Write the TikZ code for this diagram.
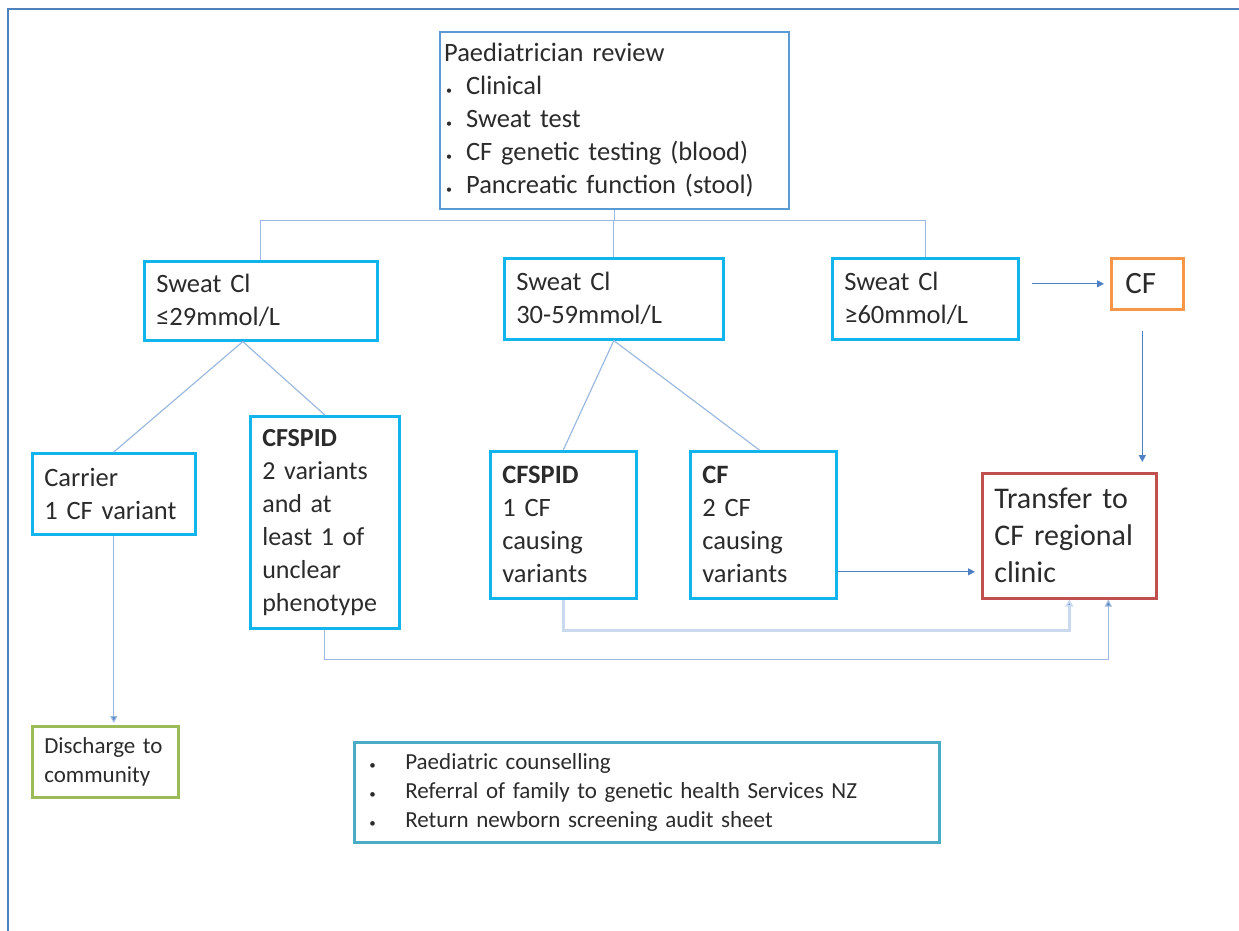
\documentclass[tikz,border=0pt]{standalone}
\usepackage{fontspec}
\setmainfont{Carlito}
\usetikzlibrary{arrows.meta}

\definecolor{framecol}{HTML}{4F81BD}
\definecolor{reviewcol}{HTML}{5B9BD5}
\definecolor{tiercol}{HTML}{12B4EE}
\definecolor{cfcol}{HTML}{F79646}
\definecolor{transcol}{HTML}{C0504D}
\definecolor{homecol}{HTML}{9BBB59}
\definecolor{advicecol}{HTML}{4BACC6}
\definecolor{linkcol}{HTML}{9DB9DF}
\definecolor{palecol}{HTML}{C9D9EE}
\definecolor{arrowcol}{HTML}{4F7FC4}
\definecolor{inkcol}{HTML}{2B2B2B}

\newcommand{\bulA}{\makebox[22pt][l]{\hspace{2pt}\fontsize{12}{12}\selectfont\textbullet}}
\newcommand{\bulB}{\makebox[37pt][l]{\hspace{1pt}\fontsize{13}{13}\selectfont\textbullet}}

\begin{document}
\begin{tikzpicture}[x=1pt,y=-1pt,
    box/.style={draw=tiercol, line width=2.6pt, anchor=north west, align=left,
        inner xsep=12pt, inner ysep=0pt, text=inkcol, font=\fontsize{26.5}{33}\selectfont},
    link/.style={draw=linkcol, line width=1.2pt},
    arr/.style={draw=arrowcol, line width=1.2pt, -{Triangle[width=7pt,length=7pt]}}]

\useasboundingbox (0,0) rectangle (1239,931);

% outer frame (only top and left are drawn)
\draw[framecol, line width=2pt] (8,931) -- (8,9) -- (1239,9);

%%%%%%%%%%%%%%%%%%%% Review %%%%%%%%%%%%%%%%%%%%%%%%%%
\node[box, draw=reviewcol, line width=2.2pt, inner xsep=4pt, text width=341pt, minimum height=177pt] (review) at (439,31)
    {Paediatrician review\\ \bulA Clinical\\ \bulA Sweat test\\ \bulA CF genetic testing (blood)\\ \bulA Pancreatic function (stool)};

%%%%%%%%%%%%%%%%%%%% Sweat chloride %%%%%%%%%%%%%%%%%%%%%%%%%%
\node[box, text width=209pt, minimum height=79pt] (sweatA) at (143,260) {Sweat Cl\\ ≤29mmol/L};
\node[box, text width=195pt, minimum height=81pt] (sweatB) at (503,257) {Sweat Cl\\ 30-59mmol/L};
\node[box, text width=162pt, minimum height=81pt] (sweatC) at (831,257) {Sweat Cl\\ ≥60mmol/L};
\node[box, draw=cfcol, inner xsep=14pt, text width=44pt, minimum height=51pt, font=\fontsize{31}{33}\selectfont] (cfA) at (1110,257) {CF};

\foreach \s in {sweatA, sweatB, sweatC}
{
    \draw[link] (review.south) -- ++(0,10) -| (\s.north);
}

%%%%%%%%%%%%%%%%%%%% Outcomes %%%%%%%%%%%%%%%%%%%%%%%%%%
\node[box, text width=139pt, minimum height=81pt] (carrier) at (31,452) {Carrier\\ 1 CF variant};
\node[box, text width=125pt, minimum height=212pt, font=\fontsize{26}{33}\selectfont] (spidA) at (249,415)
    {\textbf{CFSPID}\\ 2 variants\\ and at\\ least 1 of\\ unclear\\ phenotype};
\node[box, text width=122pt, minimum height=147pt] (spidB) at (489,450) {\textbf{CFSPID}\\ 1 CF\\ causing\\ variants};
\node[box, text width=122pt, minimum height=147pt] (cfB) at (689,450) {\textbf{CF}\\ 2 CF\\ causing\\ variants};
\node[box, draw=transcol, text width=150pt, minimum height=125pt, font=\fontsize{30}{37}\selectfont] (transfer) at (981,472)
    {Transfer to\\ CF regional\\ clinic};

\draw[link] ([xshift=-18pt]sweatA.south) -- (carrier.north);
\draw[link] ([xshift=-18pt]sweatA.south) -- (spidA.north);
\draw[link] (sweatB.south) -- (spidB.north);
\draw[link] (sweatB.south) -- ([xshift=-4pt]cfB.north);

\draw[arr, shorten <=12pt, shorten >=6pt] (sweatC.east |- cfA.west) -- (cfA.west);
\draw[arr, shorten <=20pt, shorten >=10pt] ([xshift=-5pt]cfA.south) -- ([xshift=-5pt]cfA.south |- transfer.north);

\coordinate (cfBout) at ([yshift=-47pt]cfB.east);
\draw[arr, shorten >=6pt] (cfBout) -- (cfBout -| transfer.west);

\draw[arr, draw=palecol, line width=2.4pt, -{Triangle[width=8pt,length=7pt,fill=arrowcol]}] (spidB.south) -- ++(0,2) |- ([yshift=-31pt]transfer.south) -- (transfer.south);
\draw[arr, draw=linkcol, -{Triangle[width=7pt,length=7pt,fill=arrowcol]}] (spidA.south) |- ([xshift=39pt,yshift=-60pt]transfer.south) -- ([xshift=39pt]transfer.south);

%%%%%%%%%%%%%%%%%%%% Discharge and advice %%%%%%%%%%%%%%%%%%%%%%%%%%
\node[box, draw=homecol, text width=122pt, minimum height=71pt, font=\fontsize{23}{29}\selectfont] (home) at (31,725)
    {Discharge to\\ community};
\draw[arr, draw=linkcol, -{Triangle[width=7pt,length=7pt,fill=arrowcol]}, shorten >=2pt] (carrier.south) -- (carrier.south |- home.north);

\node[box, draw=advicecol, inner xsep=14pt, text width=557pt, minimum height=100pt, font=\fontsize{23}{29}\selectfont] (advice) at (353,741)
    {\bulB Paediatric counselling\\ \bulB Referral of family to genetic health Services NZ\\ \bulB Return newborn screening audit sheet};

\end{tikzpicture}
\end{document}
